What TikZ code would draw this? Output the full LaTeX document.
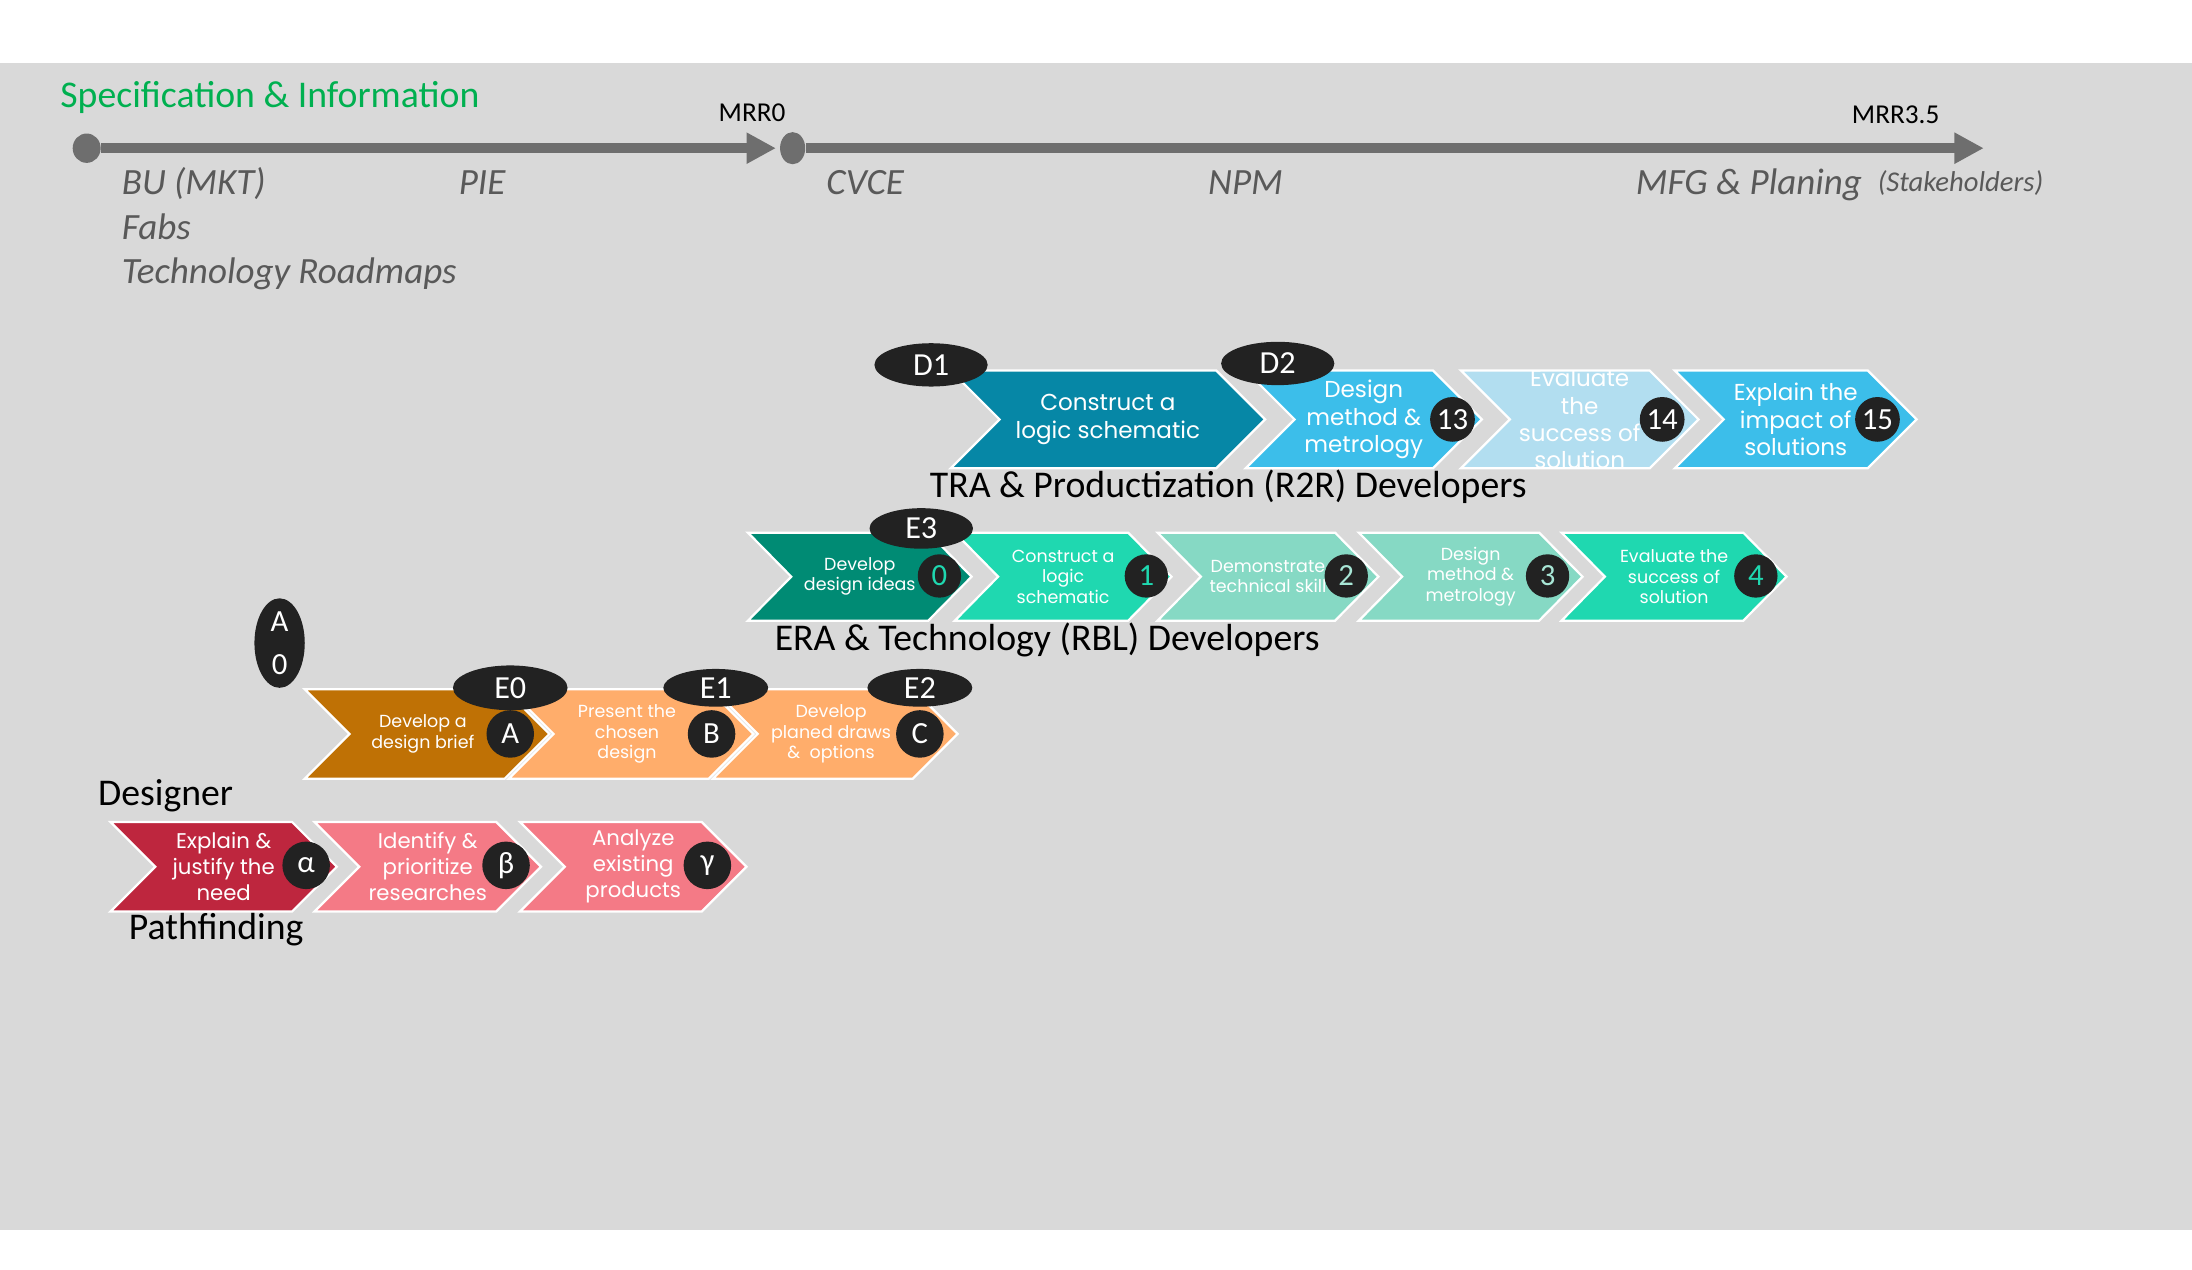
\documentclass[tikz,border=0pt]{standalone}
\usepackage{fontspec}
\setmainfont{Carlito}
\newfontfamily\chevfont{Poppins}
\usetikzlibrary{arrows.meta,shapes.geometric}
\definecolor{bggray}{HTML}{D9D9D9}
\definecolor{tlgray}{HTML}{6E6E6E}
\definecolor{itgray}{HTML}{595959}
\definecolor{specgreen}{HTML}{00B050}
\definecolor{blk}{HTML}{222222}
\definecolor{traDark}{HTML}{0687A6}
\definecolor{traBlue}{HTML}{3CBEEA}
\definecolor{traPale}{HTML}{B2DEF0}
\definecolor{eraDark}{HTML}{008B74}
\definecolor{eraTeal}{HTML}{1FD8B0}
\definecolor{eraPale}{HTML}{86D9C4}
\definecolor{eraDigitPale}{HTML}{A8E6D6}
\definecolor{desBrown}{HTML}{BF7105}
\definecolor{desPeach}{HTML}{FFAD6B}
\definecolor{pathRed}{HTML}{BE263E}
\definecolor{pathPink}{HTML}{F47A86}
\newcommand\mychev[9]{%
  \path[chevshape, fill=#7, path picture={\node[#8] (#1) at (path picture bounding box.center) {#9};}]
   (#2,#4) -- ({#3-#6},#4) -- (#3,{(#4+#5)/2}) -- ({#3-#6},#5) -- (#2,#5) -- ({#2+#6},{(#4+#5)/2}) -- cycle;}
\begin{document}
\begin{tikzpicture}[x=1pt,y=-1pt,
  chevshape/.style={draw=white, line width=1.6pt, line join=miter},
  traT/.style={font=\chevfont\fontsize{16.5}{19.5}\selectfont, text=white, align=center, inner sep=0},
  eraT/.style={font=\chevfont\fontsize{12.5}{14.5}\selectfont, text=white, align=center, inner sep=0},
  desT/.style={font=\chevfont\fontsize{12.5}{14.8}\selectfont, text=white, align=center, inner sep=0, xshift=-3pt},
  pathT/.style={font=\chevfont\fontsize{15.2}{18.5}\selectfont, text=white, align=center, inner sep=0},
  bcirc/.style={circle, fill=blk, inner sep=0, minimum size=#1, text=white, font=\fontsize{22}{22}\selectfont},
  bell/.style={ellipse, fill=blk, inner sep=0, text=white, font=\fontsize{23}{23}\selectfont},
  lab/.style={font=\fontsize{27}{30}\selectfont, text=black, anchor=base west, inner sep=0},
  itlab/.style={font=\itshape\fontsize{26.5}{30}\selectfont, text=itgray, anchor=base west, inner sep=0},
  mrr/.style={font=\fontsize{19.5}{22}\selectfont, text=black, anchor=base, inner sep=0},
  tldot/.style={ellipse, fill=tlgray, inner sep=0},
  tlline/.style={draw=tlgray, line width=7pt, -{Triangle[length=21pt,width=21pt]}}
]
\useasboundingbox (0,0) rectangle (1568,908);
\fill[white] (0,0) rectangle (1568,908);
\fill[bggray] (0,45) rectangle (1568,880);

% ---- timeline ----
\node[font=\fontsize{27}{30}\selectfont, text=specgreen, anchor=base west, inner sep=0] (spec) at (43,77) {Specification \& Information};
\coordinate (t1end) at (555,106);
\coordinate (t2end) at (1419,106);
\node[tldot, minimum width=20, minimum height=21] (dot1) at (62,106) {};
\draw[tlline] (dot1) -- (t1end);
\node[tldot, minimum width=18, minimum height=23] (dot2) at (567,106) {};
\draw[tlline] (dot2) -- (t2end);
\node[mrr] (mrr0) at (538,87) {MRR0};
\node[mrr] (mrr35) at (1356,88) {MRR3.5};
\node[itlab] (bu) at (87,139) {BU (MKT)};
\node[itlab] (fabs) at (87,171) {Fabs};
\node[itlab] (techr) at (87,203) {Technology Roadmaps};
\node[itlab] (pie) at (328,139) {PIE};
\node[itlab] (cvce) at (591,139) {CVCE};
\node[itlab] (npm) at (864,139) {NPM};
\node[itlab] (mfg) at (1170,139) {MFG \& Planing};
\node[itlab, font=\itshape\fontsize{20.5}{22}\selectfont] (stake) at (1343,137) {(Stakeholders)};

% ---- TRA row ----
\mychev{traA}{680}{905}{265}{335}{35}{traDark}{traT}{Construct a\\logic schematic}
\mychev{traB}{891}{1060}{265}{335}{35}{traBlue}{traT}{Design\\method \&\\metrology}
\mychev{traC}{1045}{1215}{265}{335}{35}{traPale}{traT}{Evaluate\\the\\success of\\solution}
\mychev{traD}{1198}{1371}{265}{335}{35}{traBlue}{traT}{Explain the\\impact of\\solutions}
\node[bcirc=32] (n13) at (1039,300) {13};
\node[bcirc=32] (n14) at (1189,300) {14};
\node[bcirc=32] (n15) at (1343,300) {15};
\node[bell, minimum width=81, minimum height=31] (D1) at (666,261) {D1};
\node[bell, minimum width=81, minimum height=31] (D2) at (914,260) {D2};
\node[lab] (tralab) at (665,356) {TRA \& Productization (R2R) Developers};

% ---- ERA row ----
\mychev{eraA}{535}{695}{381}{444}{31}{eraDark}{eraT}{Develop\\design ideas}
\mychev{eraB}{683}{838}{381}{444}{31}{eraTeal}{eraT}{Construct a\\logic\\schematic}
\mychev{eraC}{828}{986}{381}{444}{31}{eraPale}{eraT}{Demonstrate\\technical skill}
\mychev{eraD}{972}{1132}{381}{444}{31}{eraPale}{eraT}{Design\\method \&\\metrology}
\mychev{eraE}{1117}{1278}{381}{444}{31}{eraTeal}{eraT}{Evaluate the\\success of\\solution}
\node[bcirc=31, text=eraTeal] (n0) at (672,412) {0};
\node[bcirc=31, text=eraTeal] (n1) at (820,412) {1};
\node[bcirc=31, text=eraDigitPale] (n2) at (963,412) {2};
\node[bcirc=31, text=eraDigitPale] (n3) at (1107,412) {3};
\node[bcirc=31, text=eraTeal] (n4) at (1256,412) {4};
\node[bell, minimum width=74, minimum height=29] (E3) at (659,378) {E3};
\node[lab] (eralab) at (554,465) {ERA \& Technology (RBL) Developers};

% ---- Designer row ----
\node[bell, minimum width=36, minimum height=63, align=center, font=\fontsize{22}{31}\selectfont] (A0) at (200,460) {A\\0};
\mychev{desA}{218}{393}{493}{557}{32}{desBrown}{desT}{Develop a\\design brief}
\mychev{desB}{364}{539}{493}{557}{32}{desPeach}{desT}{Present the\\chosen\\design}
\mychev{desC}{510}{685}{493}{557}{32}{desPeach}{desT}{Develop\\planed draws\\\&\ \ options}
\node[bcirc=34] (lA) at (365,525) {A};
\node[bcirc=34] (lB) at (509,525) {B};
\node[bcirc=34] (lC) at (658,525) {C};
\node[bell, minimum width=82, minimum height=32] (E0) at (365,492) {E0};
\node[bell, minimum width=75, minimum height=27] (E1) at (512,492) {E1};
\node[bell, minimum width=75, minimum height=27] (E2) at (658,492) {E2};
\node[lab] (deslab) at (70,576) {Designer};

% ---- Pathfinding row ----
\mychev{pathA}{79}{241}{588}{652}{32}{pathRed}{pathT}{Explain \&\\justify the\\need}
\mychev{pathB}{225}{387}{588}{652}{32}{pathPink}{pathT}{Identify \&\\prioritize\\researches}
\mychev{pathC}{372}{534}{588}{652}{32}{pathPink}{pathT}{Analyze\\existing\\products}
\node[bcirc=34] (ga) at (219,619) {α};
\node[bcirc=34] (gb) at (362,619) {β};
\node[bcirc=34] (gc) at (506,619) {γ};
\node[lab] (pathlab) at (92,672) {Pathfinding};
\end{tikzpicture}
\end{document}
